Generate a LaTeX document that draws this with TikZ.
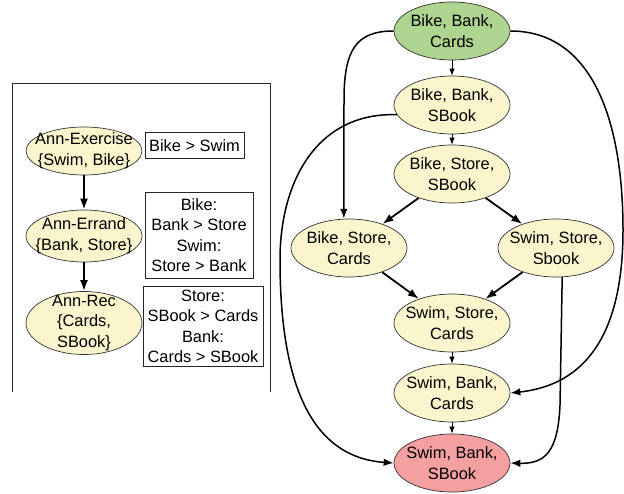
\documentclass[tikz,border=0pt]{standalone}
\usepackage{fontspec}
\setmainfont{Liberation Sans}
\usetikzlibrary{shapes.geometric,arrows.meta}
\definecolor{stateyellow}{RGB}{250,245,205}
\definecolor{stategreen}{RGB}{174,213,143}
\definecolor{statered}{RGB}{244,160,160}
\begin{document}
\begin{tikzpicture}[x=1bp,y=-1bp,
  every node/.style={font=\fontsize{16.4bp}{20.5bp}\selectfont, align=center, inner sep=0pt},
  state/.style={ellipse, draw=black!80, line width=0.7bp, fill=stateyellow,
                inner xsep=-8bp, inner ysep=-4bp,
                minimum width=116bp, minimum height=58bp},
  attr/.style={ellipse, draw=black!80, line width=0.7bp, fill=stateyellow,
               inner xsep=-8bp, inner ysep=-6bp, minimum width=116bp},
  pref/.style={rectangle, draw=black!85, line width=0.8bp, fill=white},
  thinarrow/.style={-{Latex[length=7bp,width=5.5bp]}, line width=0.9bp},
  thickarrow/.style={-{Latex[length=11bp,width=8bp]}, line width=1.8bp},
  curvearrow/.style={-{Latex[length=10bp,width=7.5bp]}, line width=1.5bp}]

\path[use as bounding box] (0,0) rectangle (624,494);

% ---- left panel: variables and their preferences ----
\draw[line width=0.8bp, black!85] (12,392) -- (12,83) -- (270,83) -- (270,392);

\node[attr, minimum height=48bp] (ex)  at (84,151) {Ann-Exercise\\\{Swim, Bike\}};
\node[attr, minimum height=52bp] (er)  at (84,236) {Ann-Errand\\\{Bank, Store\}};
\node[attr, minimum height=63bp] (rec) at (84,323) {Ann-Rec\\\{Cards,\\SBook\}};

\node[pref, minimum width=99bp,  minimum height=26bp] (p1) at (194.5,145.5) {Bike > Swim};
\node[pref, minimum width=108bp, minimum height=86bp] (p2) at (199,235) {Bike:\\Bank > Store\\Swim:\\Store > Bank};
\node[pref, minimum width=120bp, minimum height=80bp] (p3) at (203,326.5) {Store:\\SBook > Cards\\Bank:\\Cards > SBook};

\draw[thickarrow] (ex) -- (er);
\draw[thickarrow] (er) -- (rec);

% ---- right panel: outcome ordering ----
\node[state, fill=stategreen] (n1) at (452,31)  {Bike, Bank,\\Cards};
\node[state] (n2) at (452,105) {Bike, Bank,\\SBook};
\node[state] (n3) at (452,174) {Bike, Store,\\SBook};
\node[state] (n4) at (349,248) {Bike, Store,\\Cards};
\node[state] (n5) at (556,248) {Swim, Store,\\Sbook};
\node[state] (n6) at (452,323) {Swim, Store,\\Cards};
\node[state] (n7) at (452,393) {Swim, Bank,\\Cards};
\node[state, fill=statered] (n8) at (452,463) {Swim, Bank,\\SBook};

\draw[thinarrow] (n1) -- (n2);
\draw[thinarrow] (n2) -- (n3);
\draw[thickarrow] (n3) -- (n4);
\draw[thickarrow] (n3) -- (n5);
\draw[thickarrow] (n4) -- (n6);
\draw[thickarrow] (n5) -- (n6);
\draw[thinarrow] (n6) -- (n7);
\draw[thinarrow] (n7) -- (n8);

\draw[curvearrow] (n1.west) .. controls (356,31) and (344,50) .. (344,100) -- (n4.100);
\draw[curvearrow] (n1.east) .. controls (592,31) and (623,120) .. (623,230)
                  .. controls (623,335) and (585,385) .. (n7.east);
\draw[curvearrow] (n2.190) .. controls (318,112) and (280,180) .. (280,260)
                  .. controls (280,400) and (320,458) .. (n8.west);
\draw[curvearrow] (n5.282) -- (560,405) .. controls (558,452) and (545,464) .. (n8.east);
\end{tikzpicture}
\end{document}
